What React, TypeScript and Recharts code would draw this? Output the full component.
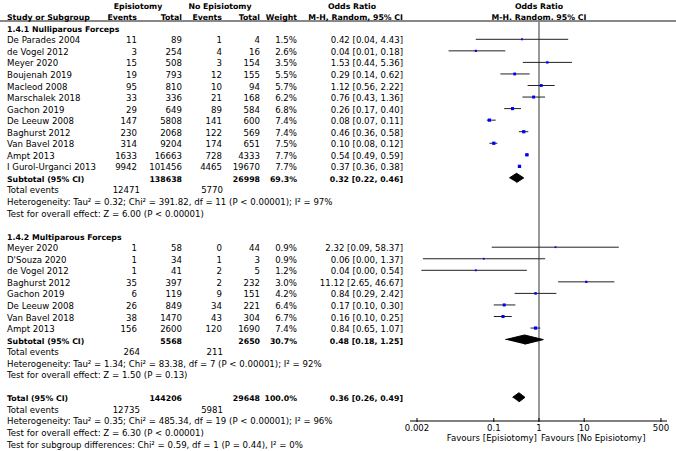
import React from "react";
import { ScatterChart, Scatter, XAxis, YAxis, ErrorBar, ReferenceLine } from "recharts";

document.body.style.margin = "0";

// 1.4.1 Nulliparous Forceps
const nulliStudies = [
  "De Parades 2004", "de Vogel 2012", "Meyer 2020", "Boujenah 2019", "Macleod 2008", "Marschalek 2018",
  "Gachon 2019", "De Leeuw 2008", "Baghurst 2012", "Van Bavel 2018", "Ampt 2013", "I Gurol-Urganci 2013",
];
const nulliEpiEvents = [11, 3, 15, 19, 95, 33, 29, 147, 230, 314, 1633, 9942];
const nulliEpiTotal = [89, 254, 508, 793, 810, 336, 649, 5808, 2068, 9204, 16663, 101456];
const nulliNoEvents = [1, 4, 3, 12, 10, 21, 89, 141, 122, 174, 728, 4465];
const nulliNoTotal = [4, 16, 154, 155, 94, 168, 584, 600, 569, 651, 4333, 19670];
const nulliWeight = [1.5, 2.6, 3.5, 5.5, 5.7, 6.2, 6.8, 7.4, 7.4, 7.5, 7.7, 7.7];
const nulliOR = [0.42, 0.04, 1.53, 0.29, 1.12, 0.76, 0.26, 0.08, 0.46, 0.1, 0.54, 0.37];
const nulliLow = [0.04, 0.01, 0.44, 0.14, 0.56, 0.43, 0.17, 0.07, 0.36, 0.08, 0.49, 0.36];
const nulliHigh = [4.43, 0.18, 5.36, 0.62, 2.22, 1.36, 0.4, 0.11, 0.58, 0.12, 0.59, 0.38];
const nulliPooled = [0.32, 0.22, 0.46];
const nulliTotals = [138638, 26998];
const nulliEventTotals = [12471, 5770];
const nulliWeightSum = 69.3;
const nulliHet = "Heterogeneity: Tau\u00b2 = 0.32; Chi\u00b2 = 391.82, df = 11 (P < 0.00001); I\u00b2 = 97%";
const nulliTest = "Test for overall effect: Z = 6.00 (P < 0.00001)";

// 1.4.2 Multiparous Forceps
const multiStudies = [
  "Meyer 2020", "D'Souza 2020", "de Vogel 2012", "Baghurst 2012", "Gachon 2019", "De Leeuw 2008",
  "Van Bavel 2018", "Ampt 2013",
];
const multiEpiEvents = [1, 1, 1, 35, 6, 26, 38, 156];
const multiEpiTotal = [58, 34, 41, 397, 119, 849, 1470, 2600];
const multiNoEvents = [0, 1, 2, 2, 9, 34, 43, 120];
const multiNoTotal = [44, 3, 5, 232, 151, 221, 304, 1690];
const multiWeight = [0.9, 0.9, 1.2, 3.0, 4.2, 6.4, 6.7, 7.4];
const multiOR = [2.32, 0.06, 0.04, 11.12, 0.84, 0.17, 0.16, 0.84];
const multiLow = [0.09, 0.0027, 0.0025, 2.65, 0.29, 0.1, 0.1, 0.65];
const multiHigh = [58.37, 1.37, 0.54, 46.67, 2.42, 0.3, 0.25, 1.07];
const multiPooled = [0.48, 0.18, 1.25];
const multiTotals = [5568, 2650];
const multiEventTotals = [264, 211];
const multiWeightSum = 30.7;
const multiHet = "Heterogeneity: Tau\u00b2 = 1.34; Chi\u00b2 = 83.38, df = 7 (P < 0.00001); I\u00b2 = 92%";
const multiTest = "Test for overall effect: Z = 1.50 (P = 0.13)";

// Overall
const allPooled = [0.36, 0.26, 0.49];
const allTotals = [144206, 29648];
const allEventTotals = [12735, 5981];
const allWeightSum = 100.0;
const allHet = "Heterogeneity: Tau\u00b2 = 0.35; Chi\u00b2 = 485.34, df = 19 (P < 0.00001); I\u00b2 = 96%";
const allTest = "Test for overall effect: Z = 6.30 (P < 0.00001)";
const subgroupTest = "Test for subgroup differences: Chi\u00b2 = 0.59, df = 1 (P = 0.44), I\u00b2 = 0%";

const xTicks = [0.002, 0.1, 1, 10, 500];

// layout
const W = 676;
const H = 451;
const FONT = "'DejaVu Sans', sans-serif";
const FS = 8.6;
const FS_BOLD = 7.8;
const ROW0_Y = 39.3;
const ROW_H = 11.55;
const PLOT_TOP = 21;
const PLOT_BOTTOM = 421;
const PLOT_LEFT = 410;
const PLOT_RIGHT = 667;
const TEXT_DY = 4;
const DIAMOND_HALF = 0.4;
const NULLI_ROW = 0;
const MULTI_ROW = 18;
const TOTAL_ROW = 31;
const COL = { study: 7, epiEv: 137, epiTot: 182, noEv: 222, noTot: 260, weight: 297, ci: 403 };

const rowY = (r: number) => ROW0_Y + ROW_H * r;
const ci = (p: number[]) => `${p[0].toFixed(2)} [${p[1].toFixed(2)}, ${p[2].toFixed(2)}]`;

function studyPoints(or: number[], lo: number[], hi: number[], w: number[], start: number) {
  return or.map((v, i) => ({ x: v, y: start + i, w: w[i], err: [v - lo[i], hi[i] - v] }));
}
function diamond(p: number[], r: number) {
  return [
    { x: p[1], y: r },
    { x: p[0], y: r - DIAMOND_HALF },
    { x: p[2], y: r },
    { x: p[0], y: r + DIAMOND_HALF },
  ];
}

const studies = [
  ...studyPoints(nulliOR, nulliLow, nulliHigh, nulliWeight, NULLI_ROW),
  ...studyPoints(multiOR, multiLow, multiHigh, multiWeight, MULTI_ROW),
];

const T = ({ x, r, anchor = "start", bold = false, children }: any) => (
  <text
    x={x}
    y={rowY(r) + TEXT_DY}
    textAnchor={anchor}
    fontWeight={bold ? "bold" : "normal"}
    fontSize={bold ? FS_BOLD : FS}
  >
    {children}
  </text>
);

function Group({ title, start, names, ee, et, ne, nt, w, or, lo, hi, pooled, totals, evTotals, wSum, het, test }: any) {
  const n = names.length;
  return (
    <g>
      <T x={COL.study} r={start - 1} bold>{title}</T>
      {names.map((s: string, i: number) => (
        <g key={s}>
          <T x={COL.study} r={start + i}>{s}</T>
          <T x={COL.epiEv} r={start + i} anchor="end">{ee[i]}</T>
          <T x={COL.epiTot} r={start + i} anchor="end">{et[i]}</T>
          <T x={COL.noEv} r={start + i} anchor="end">{ne[i]}</T>
          <T x={COL.noTot} r={start + i} anchor="end">{nt[i]}</T>
          <T x={COL.weight} r={start + i} anchor="end">{w[i].toFixed(1)}%</T>
          <T x={COL.ci} r={start + i} anchor="end">{ci([or[i], lo[i], hi[i]])}</T>
        </g>
      ))}
      <T x={COL.study} r={start + n} bold>Subtotal (95% CI)</T>
      <T x={COL.epiTot} r={start + n} anchor="end" bold>{totals[0]}</T>
      <T x={COL.noTot} r={start + n} anchor="end" bold>{totals[1]}</T>
      <T x={COL.weight} r={start + n} anchor="end" bold>{wSum.toFixed(1)}%</T>
      <T x={COL.ci} r={start + n} anchor="end" bold>{ci(pooled)}</T>
      <T x={COL.study} r={start + n + 1}>Total events</T>
      <T x={COL.epiEv + 3} r={start + n + 1} anchor="end">{evTotals[0]}</T>
      <T x={COL.noEv + 1} r={start + n + 1} anchor="end">{evTotals[1]}</T>
      <T x={COL.study} r={start + n + 2}>{het}</T>
      <T x={COL.study} r={start + n + 3}>{test}</T>
    </g>
  );
}

const LogTick = ({ x, y, payload }: any) => (
  <g>
    <line x1={x} x2={x} y1={y - 3} y2={y + 1} stroke="#000" />
    <text x={x} y={y + 10} textAnchor="middle" fontSize={FS} fontFamily={FONT} fill="#000">
      {payload.value}
    </text>
  </g>
);

const NullLabels = ({ viewBox }: any) => {
  const x = viewBox.x;
  const yb = viewBox.y + viewBox.height;
  return (
    <g fontFamily={FONT} fill="#000">
      <text x={x} y={rowY(-3) + TEXT_DY} textAnchor="middle" fontWeight="bold" fontSize={FS_BOLD}>Odds Ratio</text>
      <text x={x} y={rowY(-2) + TEXT_DY} textAnchor="middle" fontWeight="bold" fontSize={FS_BOLD}>M-H, Random, 95% CI</text>
      <text x={x - 2} y={yb + 20} textAnchor="end" fontSize={FS}>Favours [Episiotomy]</text>
      <text x={x + 2} y={yb + 20} textAnchor="start" fontSize={FS}>Favours [No Episiotomy]</text>
    </g>
  );
};

const Square = ({ cx, cy, payload }: any) => {
  const s = 1.6 + payload.w * 0.22;
  return <rect x={cx - s / 2} y={cy - s / 2} width={s} height={s} fill="#0000ff" />;
};

const Nothing = () => <g />;

export default function App() {
  return (
    <div style={{ position: "relative", width: W, height: H, background: "#fff" }}>
      <div style={{ position: "absolute", left: 0, top: 0 }}>
        <ScatterChart width={W} height={H} margin={{ top: PLOT_TOP, right: W - PLOT_RIGHT, bottom: 0, left: PLOT_LEFT }}>
          <XAxis
            type="number"
            dataKey="x"
            scale="log"
            domain={[0.0014, 680]}
            ticks={xTicks}
            height={H - PLOT_BOTTOM}
            tickSize={0}
            tickMargin={0}
            tickLine={false}
            axisLine={{ stroke: "#000" }}
            tick={<LogTick />}
            interval={0}
          />
          <YAxis
            type="number"
            dataKey="y"
            hide
            width={0}
            reversed
            domain={[(PLOT_TOP - ROW0_Y) / ROW_H, (PLOT_BOTTOM - ROW0_Y) / ROW_H]}
          />
          <ReferenceLine
            x={1}
            stroke="#777"
            strokeWidth={1.5}
            label={(p: any) => <NullLabels viewBox={p.viewBox} />}
          />
          <Scatter data={studies} shape={<Nothing />} isAnimationActive={false}>
            <ErrorBar dataKey="err" direction="x" width={0} stroke="#222" strokeWidth={1} isAnimationActive={false} />
          </Scatter>
          <Scatter data={studies} shape={<Square />} isAnimationActive={false} />
          {[diamond(nulliPooled, NULLI_ROW + nulliStudies.length), diamond(multiPooled, MULTI_ROW + multiStudies.length), diamond(allPooled, TOTAL_ROW)].map((d, i) => (
            <Scatter
              key={i}
              data={d}
              shape={<Nothing />}
              line={{ fill: "#000", stroke: "#000", strokeWidth: 1 }}
              lineJointType="linear"
              isAnimationActive={false}
            />
          ))}
        </ScatterChart>
      </div>
      <svg
        width={W}
        height={H}
        style={{ position: "absolute", left: 0, top: 0, pointerEvents: "none" }}
        fontFamily={FONT}
        fill="#000"
      >
        <line x1={0} x2={W} y1={PLOT_TOP} y2={PLOT_TOP} stroke="#888" strokeWidth={2} />
        <T x={138} r={-3} anchor="middle" bold>Episiotomy</T>
        <T x={220} r={-3} anchor="middle" bold>No Episiotomy</T>
        <T x={352} r={-3} anchor="middle" bold>Odds Ratio</T>
        <T x={COL.study} r={-2} bold>Study or Subgroup</T>
        <T x={COL.epiEv} r={-2} anchor="end" bold>Events</T>
        <T x={COL.epiTot} r={-2} anchor="end" bold>Total</T>
        <T x={COL.noEv} r={-2} anchor="end" bold>Events</T>
        <T x={COL.noTot} r={-2} anchor="end" bold>Total</T>
        <T x={COL.weight} r={-2} anchor="end" bold>Weight</T>
        <T x={COL.ci} r={-2} anchor="end" bold>M-H, Random, 95% CI</T>
        <Group
          title="1.4.1 Nulliparous Forceps" start={NULLI_ROW} names={nulliStudies}
          ee={nulliEpiEvents} et={nulliEpiTotal} ne={nulliNoEvents} nt={nulliNoTotal} w={nulliWeight}
          or={nulliOR} lo={nulliLow} hi={nulliHigh} pooled={nulliPooled} totals={nulliTotals}
          evTotals={nulliEventTotals} wSum={nulliWeightSum} het={nulliHet} test={nulliTest}
        />
        <Group
          title="1.4.2 Multiparous Forceps" start={MULTI_ROW} names={multiStudies}
          ee={multiEpiEvents} et={multiEpiTotal} ne={multiNoEvents} nt={multiNoTotal} w={multiWeight}
          or={multiOR} lo={multiLow} hi={multiHigh} pooled={multiPooled} totals={multiTotals}
          evTotals={multiEventTotals} wSum={multiWeightSum} het={multiHet} test={multiTest}
        />
        <T x={COL.study} r={TOTAL_ROW} bold>Total (95% CI)</T>
        <T x={COL.epiTot} r={TOTAL_ROW} anchor="end" bold>{allTotals[0]}</T>
        <T x={COL.noTot} r={TOTAL_ROW} anchor="end" bold>{allTotals[1]}</T>
        <T x={COL.weight} r={TOTAL_ROW} anchor="end" bold>{allWeightSum.toFixed(1)}%</T>
        <T x={COL.ci} r={TOTAL_ROW} anchor="end" bold>{ci(allPooled)}</T>
        <T x={COL.study} r={TOTAL_ROW + 1}>Total events</T>
        <T x={COL.epiEv + 3} r={TOTAL_ROW + 1} anchor="end">{allEventTotals[0]}</T>
        <T x={COL.noEv + 1} r={TOTAL_ROW + 1} anchor="end">{allEventTotals[1]}</T>
        <T x={COL.study} r={TOTAL_ROW + 2}>{allHet}</T>
        <T x={COL.study} r={TOTAL_ROW + 3}>{allTest}</T>
        <T x={COL.study} r={TOTAL_ROW + 4}>{subgroupTest}</T>
      </svg>
    </div>
  );
}
